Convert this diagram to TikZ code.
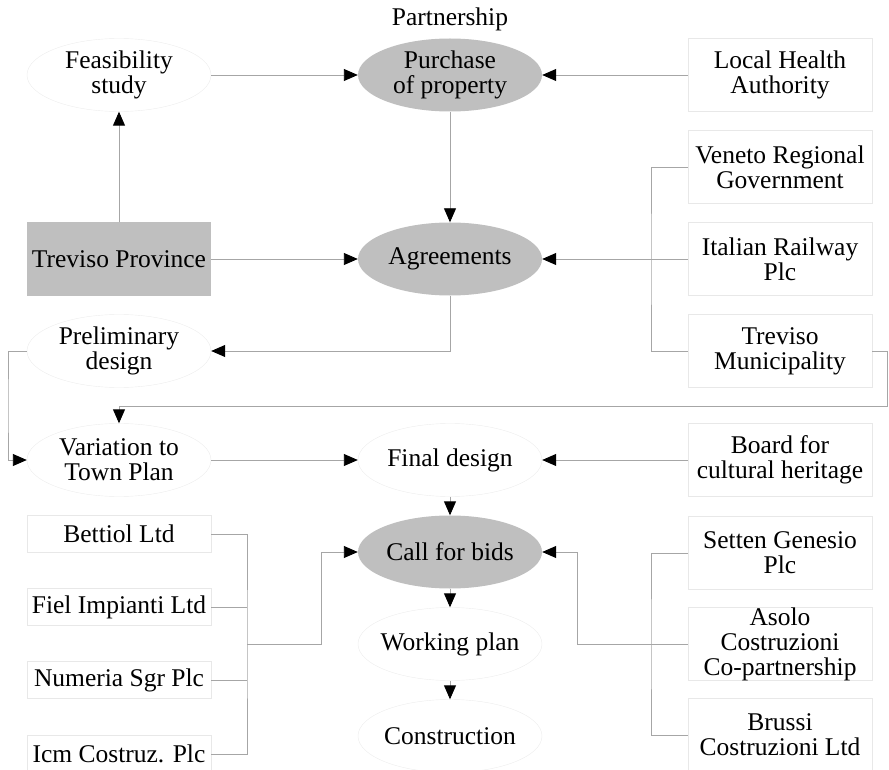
\documentclass[tikz,border=0pt]{standalone}
\usepackage{fontspec}
\setmainfont{Liberation Serif}
\usepackage{xcolor}
\usepackage{tikz}
\usetikzlibrary{positioning,arrows.meta,shapes.geometric}

\begin{document}
\begin{tikzpicture}[x=1pt,y=-1pt,
  >={Triangle[length=14pt,width=12pt,color=black]},
  font=\fontsize{25.5}{25}\selectfont,
  every node/.style={align=center,inner sep=0pt},
  stage/.style={ellipse,draw=gray!15,inner xsep=-15pt,minimum width=184pt,minimum height=73pt},
  keystage/.style={stage,draw=none,fill=gray!50},
  actor/.style={rectangle,draw=gray!18,minimum width=184pt,minimum height=73pt},
  firm/.style={actor,minimum height=37pt},
  link/.style={draw=gray!70,line width=0.9pt},
  flow/.style={link,->}]
  \useasboundingbox (0,0) rectangle (889,770);
  % central process
  \node at (450,19) (partner) {Partnership};
  \node[stage] at (119,75) (feas) {Feasibility\\study};
  \node[keystage] at (450,75) (purchase) {Purchase\\of property};
  \node[fill=gray!50,minimum width=184pt,minimum height=73pt] at (119,259) (province) {Treviso Province};
  \node[keystage] at (450,259) (agree) {Agreements};
  \node[stage] at (119,351) (prelim) {Preliminary\\design};
  \node[stage] at (119,460) (townplan) {Variation to\\Town Plan};
  \node[stage] at (450,460) (final) {Final design};
  \node[keystage] at (450,552) (bids) {Call for bids};
  \node[stage] at (450,644) (working) {Working plan};
  \node[stage] at (450,736) (build) {Construction};
  % public actors (right)
  \node[actor] at (780,75) (health) {Local Health\\Authority};
  \node[actor] at (780,167) (veneto) {Veneto Regional\\Government};
  \node[actor] at (780,259) (railway) {Italian Railway\\Plc};
  \node[actor] at (780,351) (town) {Treviso\\Municipality};
  \node[actor] at (780,460) (heritage) {Board for\\cultural heritage};
  % bidders
  \node[actor] at (780,553) (setten) {Setten Genesio\\Plc};
  \node[actor] at (780,644) (asolo) {Asolo\\Costruzioni\\Co-partnership};
  \node[actor] at (780,735) (brussi) {Brussi\\Costruzioni Ltd};
  \node[firm] at (119,534) (bettiol) {Bettiol Ltd};
  \node[firm] at (119,607) (fiel) {Fiel Impianti Ltd};
  \node[firm] at (119,680) (numeria) {Numeria Sgr Plc};
  \node[firm] at (119,754) (icm) {Icm Costruz. Plc};
  % bend points
  \coordinate (agreebar) at (651,259);
  \coordinate (edge) at (887,406);
  \coordinate (leftbend) at (8,406);
  \coordinate (lbar) at (247,644);
  \coordinate (ljoin) at (321,644);
  \coordinate (rbar) at (651,644);
  \coordinate (rjoin) at (577,644);
  % connectors
  \draw[flow] (feas) -- (purchase);
  \draw[flow] (health) -- (purchase);
  \draw[flow] (province) -- (feas);
  \draw[flow] (province) -- (agree);
  \draw[flow] (purchase) -- (agree);
  \draw[flow] (railway) -- (agree);
  \draw[link] (veneto.west) -| (agreebar) |- (town.west);
  \draw[flow] (town.east) -| (edge) -| (townplan.north);
  \draw[flow] (agree.south) |- (prelim.east);
  \draw[flow] (prelim.west) -| (leftbend) |- (townplan.west);
  \draw[flow] (townplan) -- (final);
  \draw[flow] (heritage) -- (final);
  \draw[flow] (final) -- (bids);
  \draw[flow] (bids) -- (working);
  \draw[flow] (working) -- (build);
  \draw[link] (bettiol.east) -| (lbar) |- (icm.east);
  \draw[link] (fiel.east) -- (fiel.east -| lbar);
  \draw[link] (numeria.east) -- (numeria.east -| lbar);
  \draw[flow] (lbar) -- (ljoin) |- (bids.west);
  \draw[link] (setten.west) -| (rbar) |- (brussi.west);
  \draw[flow] (asolo.west) -- (rjoin) |- (bids.east);
\end{tikzpicture}
\end{document}
